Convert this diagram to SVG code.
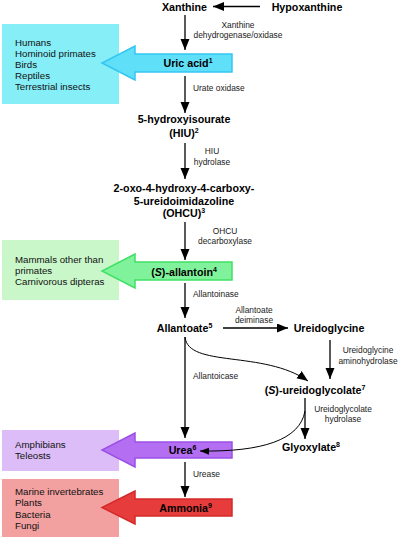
<svg xmlns="http://www.w3.org/2000/svg" width="400" height="540" viewBox="0 0 400 540">
<style>
.node{font-family:"Liberation Sans",Arial,sans-serif;font-weight:bold;font-size:10.7px;fill:#000;text-anchor:middle}
.lbl{font-family:"Liberation Sans",Arial,sans-serif;font-size:8.4px;fill:#1a1a1a}
.mid{text-anchor:middle}
.org{font-family:"Liberation Sans",Arial,sans-serif;font-size:9.7px;fill:#111}
.ln{stroke:#000;stroke-width:1.3;fill:none;marker-end:url(#ah)}
.cv{stroke:#000;stroke-width:1;fill:none}
</style>
<defs>
<marker id="ah" markerUnits="userSpaceOnUse" markerWidth="12" markerHeight="10" refX="11" refY="4.5" orient="auto">
<path d="M0,0 L11,4.5 L0,9 z" fill="#000"/>
</marker>
<marker id="ahs" markerUnits="userSpaceOnUse" markerWidth="10" markerHeight="8" refX="9" refY="3.5" orient="auto">
<path d="M0,0 L9,3.5 L0,7 z" fill="#000"/>
</marker>
</defs>
<rect width="400" height="540" fill="#fff"/>

<g id="organisms-uric">
<rect x="2" y="24" width="117" height="80" fill="#86eef7"/>
<text class="org" x="15" y="46">Humans</text>
<text class="org" x="15" y="57">Hominoid primates</text>
<text class="org" x="15" y="67.5">Birds</text>
<text class="org" x="15" y="78.5">Reptiles</text>
<text class="org" x="15" y="89.5">Terrestrial insects</text>
</g>
<g id="organisms-allantoin">
<rect x="2" y="240" width="117" height="60" fill="#c9f7c9"/>
<text class="org" x="15" y="263">Mammals other than</text>
<text class="org" x="15" y="273.5">primates</text>
<text class="org" x="15" y="285">Carnivorous dipteras</text>
</g>
<g id="organisms-urea">
<rect x="2" y="430" width="117" height="41" fill="#dcbdf8"/>
<text class="org" x="15" y="448">Amphibians</text>
<text class="org" x="15" y="459">Teleosts</text>
</g>
<g id="organisms-ammonia">
<rect x="2" y="479" width="117" height="58" fill="#f2a0a0"/>
<text class="org" x="15" y="495">Marine invertebrates</text>
<text class="org" x="15" y="506">Plants</text>
<text class="org" x="15" y="517.5">Bacteria</text>
<text class="org" x="15" y="528.5">Fungi</text>
</g>

<g id="uric-acid">
<polygon points="232,54 135,54 135,46 102,63 135,80 135,72 232,72" fill="#5fdff8" stroke="#33c6f2" stroke-width="1.5"/>
<text class="node" x="188" y="67">Uric acid<tspan font-size="7" dy="-4">1</tspan></text>
</g>
<g id="allantoin">
<polygon points="232,262 135,262 135,254 102,271 135,288 135,280 232,280" fill="#80f29c" stroke="#40e066" stroke-width="1.5"/>
<text class="node" x="184" y="275.5">(<tspan font-style="italic">S</tspan>)-allantoin<tspan font-size="7" dy="-4">4</tspan></text>
</g>
<g id="urea">
<polygon points="232,442 135,442 135,433 102,450 135,467 135,458 232,458" fill="#b46ef2" stroke="#9a50e6" stroke-width="1.5"/>
<text class="node" x="182.5" y="454">Urea<tspan font-size="7" dy="-4">6</tspan></text>
</g>
<g id="ammonia">
<polygon points="232,499 135,499 135,491 102,507.5 135,524 135,516 232,516" fill="#e63c3c" stroke="#d42a2a" stroke-width="1.5"/>
<text class="node" x="185.5" y="511.5">Ammonia<tspan font-size="7" dy="-4">9</tspan></text>
</g>

<g id="xanthine"><text class="node" x="184.5" y="10.5">Xanthine</text></g>
<g id="hypoxanthine"><text class="node" x="307" y="10.5">Hypoxanthine</text></g>
<g id="hiu">
<text class="node" x="184" y="123">5-hydroxyisourate</text>
<text class="node" x="184" y="137">(HIU)<tspan font-size="7" dy="-4">2</tspan></text>
</g>
<g id="ohcu">
<text class="node" x="184" y="192">2-oxo-4-hydroxy-4-carboxy-</text>
<text class="node" x="184" y="204.5">5-ureidoimidazoline</text>
<text class="node" x="184" y="216.5">(OHCU)<tspan font-size="7" dy="-4">3</tspan></text>
</g>
<g id="allantoate"><text class="node" x="184.5" y="331.5">Allantoate<tspan font-size="7" dy="-4">5</tspan></text></g>
<g id="ureidoglycine"><text class="node" x="329" y="331.5">Ureidoglycine</text></g>
<g id="ureidoglycolate"><text class="node" x="315" y="393.5">(<tspan font-style="italic">S</tspan>)-ureidoglycolate<tspan font-size="7" dy="-4">7</tspan></text></g>
<g id="glyoxylate"><text class="node" x="311" y="451">Glyoxylate<tspan font-size="7" dy="-4">8</tspan></text></g>

<g id="connectors">
<line class="ln" x1="260" y1="6.5" x2="213" y2="6.5"/>
<line class="ln" x1="185" y1="15" x2="185" y2="50"/>
<line class="ln" x1="185" y1="76" x2="185" y2="113"/>
<line class="ln" x1="185" y1="143" x2="185" y2="179"/>
<line class="ln" x1="185" y1="222" x2="185" y2="260"/>
<line class="ln" x1="185" y1="283" x2="185" y2="318"/>
<line class="ln" x1="185" y1="337" x2="185" y2="438"/>
<line class="ln" x1="185" y1="462" x2="185" y2="497"/>
<line class="ln" x1="223" y1="328" x2="288" y2="328"/>
<line class="ln" x1="330" y1="340" x2="330" y2="379"/>
<line class="ln" x1="305" y1="398" x2="305" y2="439"/>
<path class="cv" marker-end="url(#ah)" d="M185,337 C188,368 264,350 308,381"/>
<path class="cv" marker-end="url(#ahs)" d="M305,411 C300,440 262,452 200,451"/>
</g>

<g id="labels">
<text class="lbl mid" x="238" y="28.3">Xanthine</text>
<text class="lbl mid" x="238" y="37.7">dehydrogenase/oxidase</text>
<text class="lbl" x="193" y="90.5">Urate oxidase</text>
<text class="lbl mid" x="212" y="153.7">HIU</text>
<text class="lbl mid" x="212" y="164.7">hydrolase</text>
<text class="lbl mid" x="225" y="233.7">OHCU</text>
<text class="lbl mid" x="225" y="244">decarboxylase</text>
<text class="lbl" x="193" y="296.5">Allantoinase</text>
<text class="lbl mid" x="254" y="312.5">Allantoate</text>
<text class="lbl mid" x="254" y="322.5">deiminase</text>
<text class="lbl mid" x="368" y="353">Ureidoglycine</text>
<text class="lbl mid" x="368" y="363.7">aminohydrolase</text>
<text class="lbl" x="193" y="379">Allantoicase</text>
<text class="lbl mid" x="343" y="411.5">Ureidoglycolate</text>
<text class="lbl mid" x="343" y="421.5">hydrolase</text>
<text class="lbl" x="193" y="476.5">Urease</text>
</g>
</svg>
